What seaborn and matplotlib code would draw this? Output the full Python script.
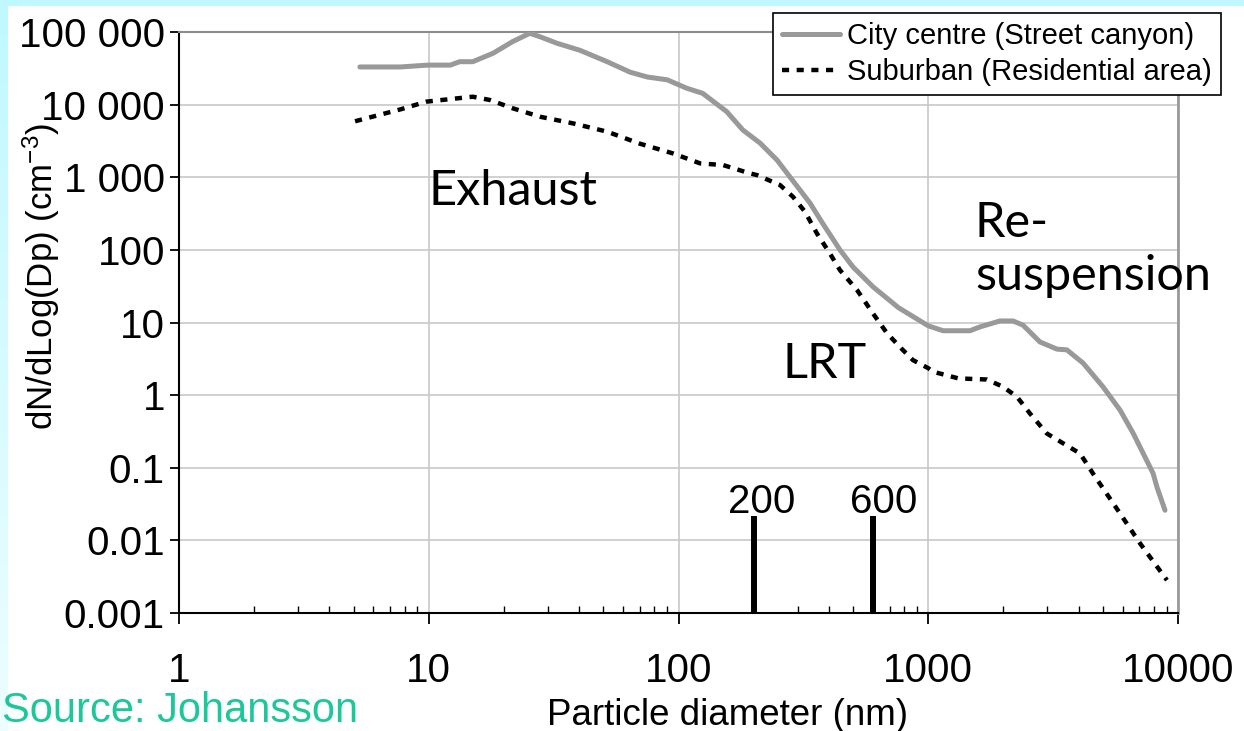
import numpy as np
import pandas as pd
import matplotlib
matplotlib.use("Agg")
import matplotlib.pyplot as plt
import seaborn as sns
from matplotlib.ticker import FixedLocator, NullLocator, LogLocator, NullFormatter
from matplotlib.patches import Rectangle

# ---------------- data ----------------
city_dp = [5.3, 7.7, 9.9, 12.2, 13.3, 15.0, 18.1, 21.7, 25.4, 27.9, 32.6, 40.3,
           51.8, 64, 75, 90, 108, 125, 156, 181, 212, 248, 279, 336, 375, 443,
           500, 601, 760, 1000, 1146, 1469, 1611, 1937, 2185, 2395, 2800, 3275,
           3590, 4170, 5010, 5865, 6610, 7945, 8240, 8870]
city_dn = [33000, 33000, 35000, 35000, 39000, 39000, 51000, 74000, 96000, 86000,
           70000, 56000, 39000, 28000, 24000, 22000, 16800, 14300, 8000, 4470,
           2960, 1726, 1016, 442, 241, 100, 58, 31, 16, 9.0, 7.7, 7.7, 8.7, 10.5,
           10.5, 9.2, 5.4, 4.3, 4.2, 2.76, 1.3, 0.62, 0.30, 0.084, 0.054, 0.026]

sub_dp = [5.07, 7.7, 9.8, 13, 15, 17.6, 21.7, 27.9, 37.8, 51.8, 70, 95, 122,
          151, 193, 206, 255, 287, 321, 358, 404, 443, 519, 601, 684, 785, 869,
          1000, 1045, 1320, 1718, 1995, 2265, 2553, 2985, 4055, 4570, 5865,
          7046, 9030]
sub_dn = [5900, 8600, 11000, 12200, 12850, 11570, 8900, 6810, 5520, 4240, 2900,
          2130, 1553, 1470, 1132, 1072, 781, 540, 335, 169, 89, 52.7, 27.9, 13.3,
          7.1, 4.3, 3.03, 2.35, 2.1, 1.70, 1.64, 1.30, 0.95, 0.56, 0.296, 0.157,
          0.083, 0.0234, 0.0091, 0.00283]

series_labels = ["City centre (Street canyon)", "Suburban (Residential area)"]

cut_sizes = [200, 600]
cut_top = 0.022
cut_label_y = 0.0336

x_ticks = [1, 10, 100, 1000, 10000]
x_ticklabels = ["1", "10", "100", "1000", "10000"]
y_ticks = [1e-3, 1e-2, 1e-1, 1, 10, 100, 1e3, 1e4, 1e5]
y_ticklabels = ["0.001", "0.01", "0.1", "1", "10", "100", "1 000", "10 000", "100 000"]

region_labels = [("Exhaust", 10.0, 414), ("LRT", 262, 1.71),
                 ("Re-", 1538, 150), ("suspension", 1538, 27.9)]

# ---------------- style ----------------
sns.set_style("white")
plt.rcParams["font.family"] = ["Liberation Sans", "DejaVu Sans"]
plt.rcParams["mathtext.fontset"] = "custom"
plt.rcParams["mathtext.rm"] = "Liberation Sans"
plt.rcParams["mathtext.it"] = "Liberation Sans:italic"
plt.rcParams["mathtext.default"] = "regular"
for k in ["text.color", "axes.labelcolor", "xtick.color", "ytick.color"]:
    plt.rcParams[k] = "black"

W, H = 1244, 731
fig = plt.figure(figsize=(W / 100, H / 100), dpi=100)
fig.patch.set_facecolor("white")

# slide background decoration (cyan band top and left)
bg = fig.add_axes([0, 0, 1, 1], zorder=-10)
bg.set_xlim(0, W)
bg.set_ylim(H, 0)
bg.axis("off")
grad = np.linspace(0, 1, 200)[:, None]
c0 = np.array([192, 248, 255]) / 255
c1 = np.array([236, 254, 255]) / 255
img = (c0[None, None, :] * (1 - grad[..., None]) + c1[None, None, :] * grad[..., None])
bg.imshow(img, extent=[0, 8, H, 0], aspect="auto", interpolation="bilinear")
bg.add_patch(Rectangle((0, 0), W, 6, color=c0, lw=0))

ax = fig.add_axes([179 / W, 1 - 613 / H, 999 / W, 581 / H])
ax.set_facecolor("white")

city_df = pd.DataFrame({"Dp": city_dp, "dN": city_dn})
sub_df = pd.DataFrame({"Dp": sub_dp, "dN": sub_dn})

sns.lineplot(data=city_df, x="Dp", y="dN", ax=ax, color="#999999",
             linewidth=3.6, label=series_labels[0], zorder=4)
sns.lineplot(data=sub_df, x="Dp", y="dN", ax=ax, color="black",
             linewidth=3.2, label=series_labels[1], zorder=5)
ax.lines[-1].set_linestyle((0, (1.6, 1.7)))
ax.lines[-1].set_dash_capstyle("butt")

ax.set_xscale("log")
ax.set_yscale("log")
ax.set_xlim(1, 10000)
ax.set_ylim(1e-3, 1e5)

# cut-off markers
ax.vlines(cut_sizes, 1e-3, cut_top, colors="black", linewidth=4.3, zorder=6)
for v in cut_sizes:
    ax.annotate(str(v), xy=(v, cut_label_y), xytext=(6 if v < 500 else 7.5, 0),
                textcoords="offset points", ha="center", va="center", fontsize=29)

# region labels
for txt, xv, yv in region_labels:
    ax.text(xv, yv, txt, fontsize=35, family=["Lato", "DejaVu Sans"],
            ha="left", va="baseline", zorder=7)

# ticks
ax.xaxis.set_major_locator(FixedLocator(x_ticks))
ax.set_xticklabels(x_ticklabels)
ax.xaxis.set_minor_locator(LogLocator(base=10, subs=np.arange(2, 10)))
ax.xaxis.set_minor_formatter(NullFormatter())
ax.yaxis.set_major_locator(FixedLocator(y_ticks))
ax.set_yticklabels(y_ticklabels)
ax.yaxis.set_minor_locator(NullLocator())

ax.tick_params(axis="x", which="major", direction="out", length=8, width=1.3,
               labelsize=29, pad=20, colors="black", bottom=True)
ax.tick_params(axis="x", which="minor", direction="in", length=5, width=1.0,
               bottom=True, colors="black")
ax.tick_params(axis="y", which="major", direction="out", length=6.5, width=1.3,
               labelsize=29, pad=3.6, left=True, colors="black")

ax.grid(True, which="major", color="#c8c8c8", linewidth=1.2, zorder=0)
ax.set_axisbelow(True)

for s in ["left", "bottom"]:
    ax.spines[s].set_color("black")
    ax.spines[s].set_linewidth(1.5)
ax.spines["top"].set_color("#8c8c8c")
ax.spines["top"].set_linewidth(1.5)
ax.spines["right"].set_color("#9a9a9a")
ax.spines["right"].set_linewidth(2)

ax.set_xlabel("Particle diameter (nm)", fontsize=26.5, va="baseline", color="black")
ax.xaxis.set_label_coords((727.5 - 179) / 999, (613 - 725) / 581)
ax.set_ylabel(r"dN/dLog(Dp) (cm$^{-3}$)", fontsize=25, ha="center", va="center",
              color="black")
ax.yaxis.set_label_coords((41 - 179) / 999, (613 - 276) / 581)

leg = ax.legend(loc="upper left", bbox_to_anchor=(773 / W, 1 - 13 / H),
                bbox_transform=fig.transFigure, borderaxespad=0, frameon=True,
                fancybox=False, edgecolor="black", framealpha=1, fontsize=21,
                handlelength=2.0, handletextpad=0.25, labelspacing=0.3,
                borderpad=0.3)
leg.get_frame().set_linewidth(1.2)
leg.set_zorder(10)
for t in leg.get_texts():
    t.set_color("black")

fig.text(0.002, 1 - 722 / H, "Source: Johansson", color="#1cc89a", fontsize=30,
         ha="left", va="baseline")

fig.savefig("out.png", dpi=100)
